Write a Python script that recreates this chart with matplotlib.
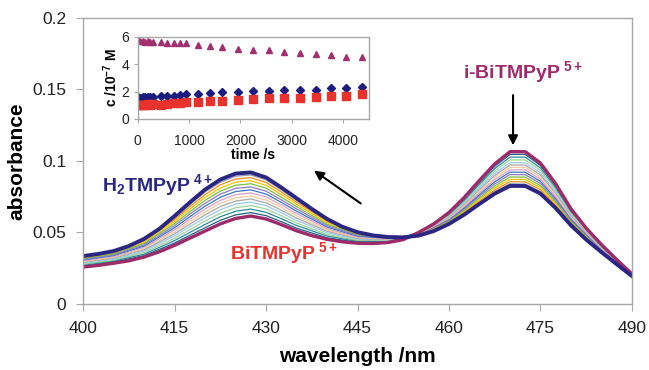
import numpy as np
import matplotlib
matplotlib.use("Agg")
import matplotlib.pyplot as plt

plt.rcParams['font.family'] = 'Liberation Sans'
plt.rcParams['mathtext.fontset'] = 'custom'
plt.rcParams['mathtext.rm'] = 'Liberation Sans:bold'
plt.rcParams['mathtext.it'] = 'Liberation Sans:bold'
plt.rcParams['mathtext.bf'] = 'Liberation Sans:bold'

# spectra of the two end species, every 2.5 nm
wl_fine = [400, 402.5, 405, 407.5, 410, 412.5, 415, 417.5, 420, 422.5, 425, 427.5, 430,
           432.5, 435, 437.5, 440, 442.5, 445, 447.5, 450, 452.5, 455, 457.5, 460, 462.5,
           465, 467.5, 470, 472.5, 475, 477.5, 480, 482.5, 485, 487.5, 490]
abs_h2tmpyp = [.0335, .0350, .0370, .0405, .0455, .0525, .0615, .0710, .0800, .0870, .0912, .0920, .0885,
               .0815, .0740, .0665, .0595, .0540, .0502, .0480, .0468, .0466, .0478, .0510, .0560, .0625,
               .0700, .0772, .0826, .0825, .0772, .0670, .0550, .0450, .0362, .0278, .0195]
abs_bitmpyp = [.0258, .0270, .0285, .0302, .0328, .0365, .0410, .0460, .0510, .0560, .0598, .0615, .0595,
               .0555, .0512, .0478, .0452, .0435, .0425, .0423, .0430, .0450, .0500, .0560, .0640, .0745,
               .0865, .0980, .1065, .1065, .0985, .0840, .0665, .0530, .0415, .0310, .0210]

# intermediate spectra (denser sampling around the two bands)
wl = [400, 405, 410, 415, 417.5, 420, 422.5, 425, 427.5, 430, 432.5, 435, 440, 445,
      450, 455, 460, 462.5, 465, 467.5, 470, 472.5, 475, 477.5, 480, 485, 490]
spec_01 = [.0330, .0365, .0447, .0603, .0695, .0783, .0851, .0893, .0902, .0868, .0799, .0726, .0586, .0497,
           .0466, .0479, .0565, .0632, .0710, .0785, .0840, .0839, .0785, .0680, .0557, .0365, .0196]
spec_02 = [.0326, .0360, .0440, .0590, .0680, .0765, .0833, .0874, .0883, .0850, .0784, .0713, .0578, .0493,
           .0463, .0481, .0570, .0639, .0720, .0797, .0855, .0854, .0798, .0690, .0564, .0368, .0197]
spec_03 = [.0320, .0354, .0431, .0576, .0663, .0745, .0811, .0852, .0862, .0830, .0766, .0697, .0568, .0487,
           .0461, .0482, .0575, .0648, .0731, .0812, .0871, .0871, .0813, .0702, .0572, .0372, .0198]
spec_04 = [.0315, .0348, .0422, .0562, .0645, .0725, .0789, .0830, .0841, .0810, .0747, .0681, .0558, .0482,
           .0458, .0484, .0581, .0656, .0743, .0826, .0888, .0887, .0827, .0714, .0580, .0376, .0199]
spec_05 = [.0310, .0342, .0413, .0547, .0628, .0704, .0768, .0808, .0819, .0789, .0729, .0665, .0548, .0477,
           .0456, .0485, .0586, .0665, .0755, .0841, .0905, .0904, .0842, .0726, .0588, .0380, .0200]
spec_06 = [.0304, .0336, .0404, .0533, .0610, .0684, .0746, .0786, .0798, .0769, .0711, .0649, .0538, .0471,
           .0453, .0487, .0592, .0673, .0766, .0855, .0922, .0921, .0857, .0738, .0596, .0383, .0201]
spec_07 = [.0299, .0330, .0395, .0519, .0593, .0664, .0724, .0764, .0777, .0749, .0693, .0633, .0528, .0466,
           .0450, .0488, .0598, .0681, .0778, .0870, .0938, .0938, .0872, .0750, .0604, .0387, .0202]
spec_08 = [.0293, .0324, .0386, .0504, .0575, .0643, .0703, .0742, .0755, .0728, .0675, .0617, .0518, .0460,
           .0448, .0490, .0603, .0690, .0789, .0884, .0955, .0955, .0887, .0762, .0612, .0391, .0203]
spec_09 = [.0288, .0318, .0378, .0490, .0558, .0623, .0681, .0720, .0734, .0708, .0656, .0601, .0508, .0455,
           .0445, .0491, .0609, .0698, .0801, .0899, .0972, .0971, .0902, .0774, .0620, .0394, .0204]
spec_10 = [.0283, .0312, .0369, .0476, .0540, .0603, .0659, .0699, .0713, .0688, .0638, .0585, .0498, .0450,
           .0442, .0493, .0614, .0707, .0812, .0913, .0989, .0988, .0917, .0786, .0628, .0398, .0205]
spec_11 = [.0277, .0305, .0359, .0459, .0520, .0580, .0634, .0673, .0688, .0665, .0617, .0567, .0486, .0444,
           .0439, .0495, .0621, .0716, .0825, .0930, .1008, .1007, .0934, .0799, .0637, .0402, .0206]
spec_12 = [.0270, .0299, .0348, .0443, .0500, .0556, .0610, .0648, .0664, .0641, .0597, .0549, .0475, .0437,
           .0436, .0497, .0627, .0726, .0839, .0947, .1027, .1027, .0951, .0813, .0647, .0407, .0208]
spec_13 = [.0264, .0292, .0338, .0426, .0480, .0533, .0585, .0623, .0639, .0618, .0576, .0530, .0463, .0431,
           .0433, .0498, .0634, .0735, .0852, .0963, .1046, .1046, .0968, .0826, .0656, .0411, .0209]

spectra = [spec_01, spec_02, spec_03, spec_04, spec_05, spec_06, spec_07,
           spec_08, spec_09, spec_10, spec_11, spec_12, spec_13]
spec_colors = ['#9C9CB4', '#F28E1C', '#F5C400', '#7DBE3C', '#8E7CC3', '#3C78C8', '#D9A0C8',
               '#F9C89A', '#A8A8A8', '#9CCBE8', '#9ED39A', '#2A8C9C', '#1F5F8A']

# concentrations vs time (inset)
time_s = [0, 50, 100, 150, 200, 250, 300, 450, 570, 700, 820, 940, 1170, 1410, 1650, 1950,
          2250, 2550, 2850, 3150, 3460, 3760, 4060, 4360]
c_ibitmpyp = [5.78, 5.72, 5.68, 5.66, 5.68, 5.64, 5.62, 5.6, 5.58, 5.56, 5.58, 5.58, 5.42, 5.35,
              5.28, 5.12, 5.05, 5.05, 4.9, 4.85, 4.78, 4.7, 4.56, 4.5]
c_h2tmpyp = [1.58, 1.55, 1.6, 1.62, 1.6, 1.62, 1.64, 1.65, 1.65, 1.7, 1.78, 1.8, 1.8, 1.88,
             1.95, 1.95, 2.02, 2.08, 2.15, 2.15, 2.12, 2.25, 2.25, 2.35]
c_bitmpyp = [1.05, 1.0, 1.05, 1.02, 1.08, 1.05, 1.1, 1.05, 1.12, 1.15, 1.2, 1.22, 1.28, 1.35,
             1.35, 1.38, 1.45, 1.55, 1.55, 1.55, 1.62, 1.7, 1.7, 1.8]

navy = '#2B2683'
magenta = '#9E2A6A'
red = '#E8322D'
frame = '#A8A8A8'

fig = plt.figure(figsize=(6.49, 3.70), dpi=100)
ax = fig.add_axes([0.1279, 0.1784, 0.8459, 0.773])

for s, c in zip(spectra, spec_colors):
    ax.plot(wl, s, color=c, lw=0.9)
ax.plot(wl_fine, abs_bitmpyp, color=magenta, lw=2.4, solid_joinstyle='round')
ax.plot(wl_fine, abs_h2tmpyp, color=navy, lw=2.8, solid_joinstyle='round')

ax.set_xlim(400, 490)
ax.set_ylim(0, 0.2)
ax.set_xticks([400, 415, 430, 445, 460, 475, 490])
ax.set_yticks([0, 0.05, 0.1, 0.15, 0.2])
ax.set_yticklabels(['0', '0.05', '0.1', '0.15', '0.2'])
for sp in ax.spines.values():
    sp.set_color(frame)
    sp.set_linewidth(1.0)
ax.tick_params(direction='out', length=5, color=frame, labelsize=12.5, labelcolor='#222222', pad=7)
ax.set_xlabel('wavelength /nm', fontsize=15, fontweight='bold', labelpad=8)
ax.set_ylabel('absorbance', fontsize=15, fontweight='bold', labelpad=4)

ax.text(403.1, 0.083, r'H$_2$TMPyP$^{\ 4+}$', color=navy, fontsize=14, fontweight='bold', va='center')
ax.text(424.1, 0.0357, r'BiTMPyP$^{\ 5+}$', color=red, fontsize=14, fontweight='bold', va='center')
ax.text(462.3, 0.162, r'i-BiTMPyP$^{\ 5+}$', color=magenta, fontsize=14, fontweight='bold', va='center')
ax.annotate('', xy=(470.5, 0.109), xytext=(470.5, 0.148),
            arrowprops=dict(arrowstyle='-|>', color='black', lw=1.5, mutation_scale=14))
ax.annotate('', xy=(437.5, 0.0944), xytext=(445.9, 0.0692),
            arrowprops=dict(arrowstyle='-|>', color='black', lw=1.5, mutation_scale=14))

# inset
ins = fig.add_axes([0.2119, 0.6784, 0.3567, 0.2216])
ins.plot(time_s, c_ibitmpyp, '^', color='#A0306E', ms=5, ls='none')
ins.plot(time_s, c_h2tmpyp, 'D', color='#1C1C80', ms=3.8, ls='none')
ins.plot(time_s, c_bitmpyp, 's', color='#E8322D', ms=5.5, ls='none')
ins.set_xlim(0, 4500)
ins.set_ylim(0, 6)
ins.set_xticks([0, 1000, 2000, 3000, 4000])
ins.set_yticks([0, 2, 4, 6])
for sp in ins.spines.values():
    sp.set_color(frame)
    sp.set_linewidth(1.0)
ins.tick_params(direction='out', length=3, color=frame, labelsize=10, labelcolor='#222222', pad=3)
ins.tick_params(axis='x', pad=8)
ins.set_xlabel('time /s', fontsize=10, fontweight='bold', labelpad=0)
ins.set_ylabel(r'c /10$^{-7}$ M', fontsize=10, fontweight='bold', labelpad=1)

fig.savefig('out.png', dpi=100)
